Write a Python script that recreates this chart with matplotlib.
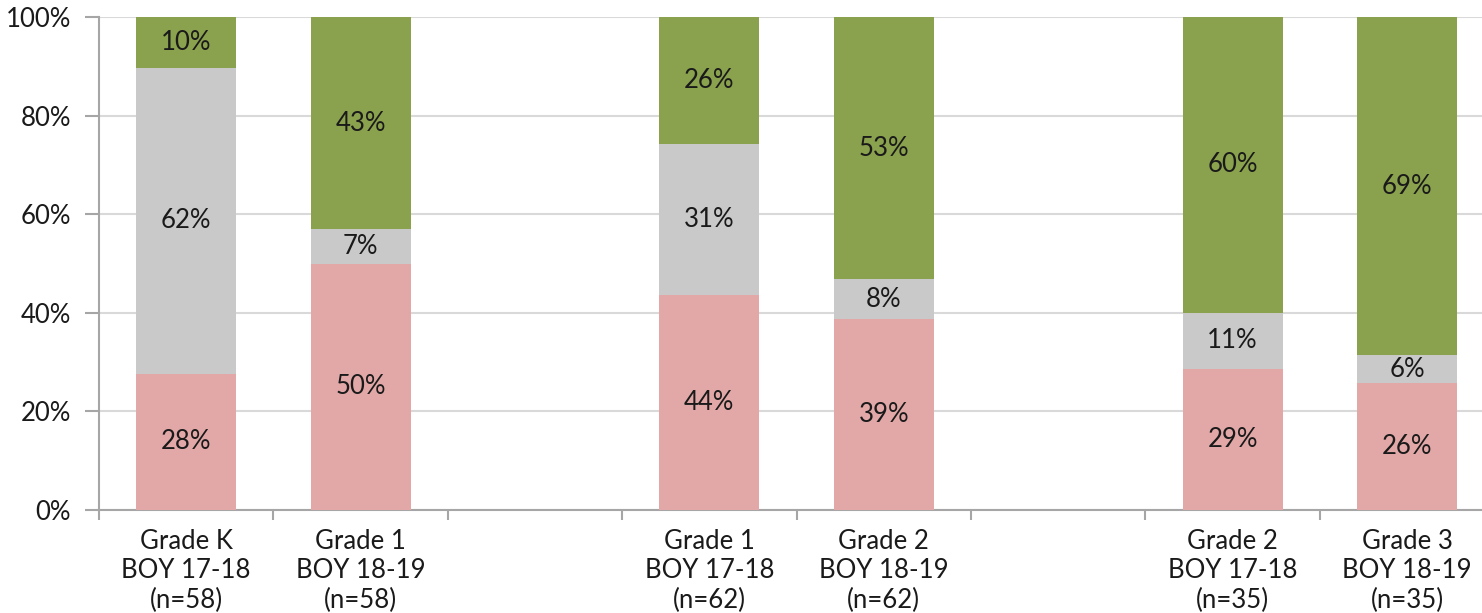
import matplotlib
matplotlib.use("Agg")
import matplotlib.pyplot as plt
from matplotlib.ticker import FixedLocator

categories = ["Grade K\nBOY 17-18\n(n=58)", "Grade 1\nBOY 18-19\n(n=58)",
              "Grade 1\nBOY 17-18\n(n=62)", "Grade 2\nBOY 18-19\n(n=62)",
              "Grade 2\nBOY 17-18\n(n=35)", "Grade 3\nBOY 18-19\n(n=35)"]
slots = [0, 1, 3, 4, 6, 7]
pink = [27.6, 50.0, 43.6, 38.7, 28.6, 25.7]
gray = [62.1, 6.9, 30.6, 8.1, 11.4, 5.7]
green = [10.3, 43.1, 25.8, 53.2, 60.0, 68.6]
yticks = [0, 20, 40, 60, 80, 100]
ytick_labels = ["0%", "20%", "40%", "60%", "80%", "100%"]

c_pink = "#E2A8A7"
c_gray = "#C9C9C9"
c_green = "#8AA14D"

FS = 18.5
plt.rcParams['font.family'] = ['Lato', 'DejaVu Sans']
fig = plt.figure(figsize=(14.82, 6.13), dpi=100)
ax = fig.add_axes([99/1482, 1 - 510/613, 1 - 99/1482, (510 - 17)/613])

w = 0.573
b1 = ax.bar(slots, pink, w, color=c_pink, zorder=3)
bot2 = pink
b2 = ax.bar(slots, gray, w, bottom=bot2, color=c_gray, zorder=3)
bot3 = [p + g for p, g in zip(pink, gray)]
b3 = ax.bar(slots, green, w, bottom=bot3, color=c_green, zorder=3)

for bars, vals, bots in [(b1, pink, [0]*6), (b2, gray, bot2), (b3, green, bot3)]:
    for rect, v, b in zip(bars, vals, bots):
        top = min(b + v, 100)
        ax.text(rect.get_x() + rect.get_width()/2, (b + top)/2, f"{v:.0f}%",
                ha="center", va="center", fontsize=FS, color="#1a1a1a", zorder=4)

ax.set_ylim(0, 100)
ax.set_xlim(-0.5, -0.5 + (1482 - 99)/174.4)
ax.set_yticks(yticks)
ax.set_yticklabels(ytick_labels)
ax.set_xticks(slots)
ax.set_xticklabels(categories)
ax.xaxis.set_minor_locator(FixedLocator([i - 0.5 for i in range(9)]))
ax.tick_params(axis="x", which="major", length=0, pad=14, labelsize=FS, labelcolor="#1a1a1a")
ax.tick_params(axis="x", which="minor", length=7, width=1.5, color="#A6A6A6")
ax.tick_params(axis="y", length=10, width=1.5, color="#A6A6A6", pad=10, labelsize=FS, labelcolor="#1a1a1a")
ax.grid(axis="y", color="#D9D9D9", linewidth=1.5, zorder=0)
for s in ["top", "right"]:
    ax.spines[s].set_visible(False)
for s in ["left", "bottom"]:
    ax.spines[s].set_color("#A6A6A6")
    ax.spines[s].set_linewidth(1.5)

fig.savefig("out.png", dpi=100)
